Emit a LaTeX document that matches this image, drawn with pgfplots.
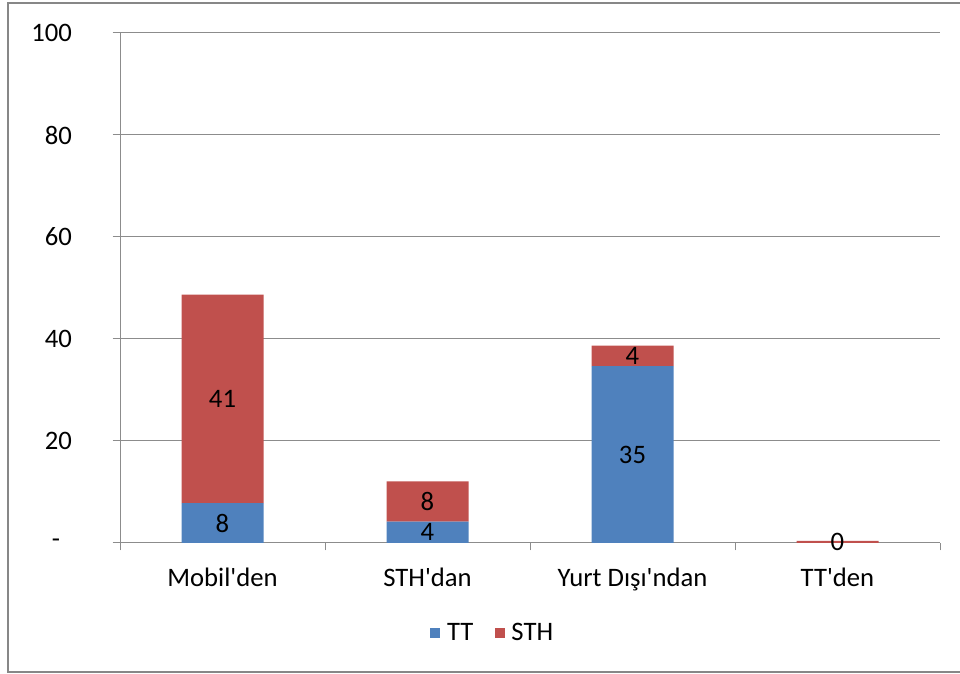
\documentclass[border=0pt]{standalone}
\usepackage{pgfplots}
\pgfplotsset{compat=1.18}
\usepackage{pgfplotstable}
\usepackage{fontspec}
\setmainfont{Carlito}
\definecolor{ttblue}{HTML}{4F81BD}
\definecolor{sthred}{HTML}{C0504D}
\definecolor{gridgray}{HTML}{8C8C8C}
\definecolor{framegray}{HTML}{878787}
\pgfplotstableread{
x TT STH
0 7.8 40.9
1 4.2 7.9
2 34.7 4.0
3 0 0.4
}\datatable
\begin{document}
\begin{tikzpicture}[font=\fontsize{20}{24}\selectfont]
\useasboundingbox (0,0) rectangle (720pt,505.5pt);
\draw[framegray, line width=1.5pt] (6pt,1.5pt) rectangle (730pt,503.25pt);
\begin{axis}[
  at={(90pt,98.25pt)}, anchor=south west,
  scale only axis, width=615pt, height=382.5pt,
  ybar stacked, bar width=0.4,
  xmin=-0.5, xmax=3.5, ymin=0, ymax=100,
  xtick={-0.5,0.5,1.5,2.5,3.5}, xticklabels={},
  extra x ticks={0,1,2,3},
  extra x tick labels={Mobil\textquotesingle den, STH\textquotesingle dan, Yurt Dışı\textquotesingle ndan, TT\textquotesingle den},
  extra x tick style={major tick length=0pt, grid=none},
  ytick={0,20,40,60,80,100}, yticklabels={-\kern9pt,20,40,60,80,100},
  axis x line*=bottom, axis y line*=left,
  axis line style={gridgray, line width=0.75pt},
  ymajorgrids=true,
  major grid style={gridgray, line width=0.75pt},
  tick style={gridgray, line width=0.75pt},
  tick align=outside, major tick length=5.5pt,
  /pgf/number format/assume math mode=true,
  xticklabel style={yshift=-15pt},
  yticklabel style={xshift=-27pt},
  legend style={at={(0.455,-0.1765)}, anchor=center, draw=none, fill=none,
    legend columns=-1,
    /tikz/every odd column/.append style={column sep=3pt},
    /tikz/every even column/.append style={column sep=14pt}},
  nodes near coords={\pgfmathprintnumber[fixed,precision=0]{\pgfplotspointmeta}},
  point meta=explicit,
  every node near coord/.append style={anchor=center, text=black},
]
\addplot[fill=ttblue, draw=none,
  legend image code/.code={\fill[ttblue] (0pt,-3.75pt) rectangle (7.5pt,3.75pt);}]
  table[x=x, y=TT, meta=TT] {\datatable};
\addplot[fill=sthred, draw=none,
  legend image code/.code={\fill[sthred] (0pt,-3.75pt) rectangle (7.5pt,3.75pt);}]
  table[x=x, y=STH, meta=STH] {\datatable};
\legend{TT, STH}
\end{axis}
\end{tikzpicture}
\end{document}
